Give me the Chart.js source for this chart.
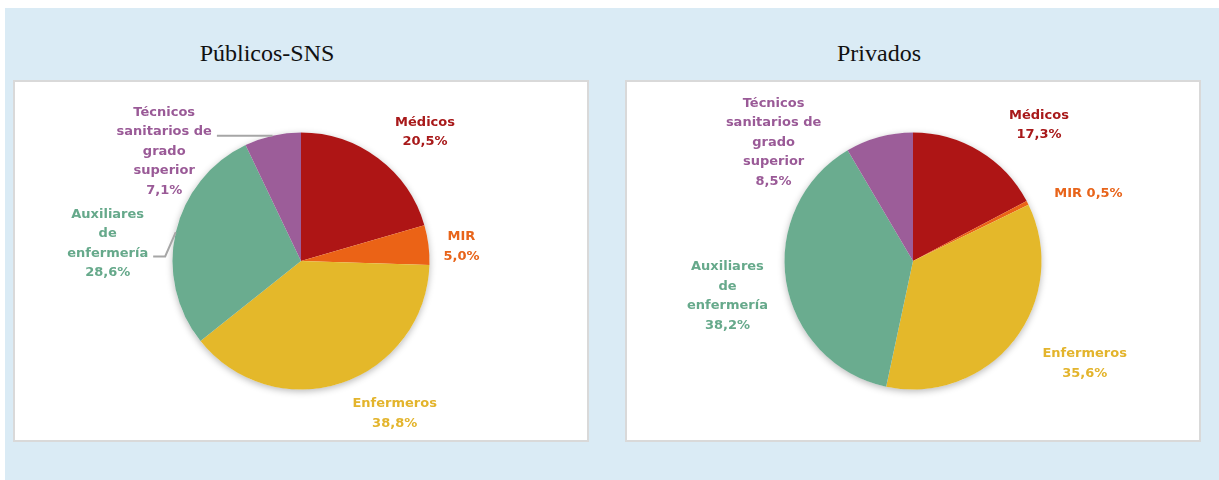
<!DOCTYPE html>
<html>
<head>
<meta charset="utf-8">
<script src="https://cdn.jsdelivr.net/npm/chart.js@4/dist/chart.umd.min.js"></script>
<style>
  body { margin: 0; background: #fff; width: 1219px; height: 480px; position: relative; overflow: hidden; }
  #bg { position: absolute; left: 5px; top: 8px; width: 1214px; height: 472px; background: #daebf5; }
  .panel { position: absolute; top: 80px; width: 576px; height: 362px; box-sizing: border-box;
           background: #fff; border: 2px solid #d9d9d9; }
  .title { position: absolute; top: 40px; width: 508px; text-align: center; line-height: 28px;
           font: 24px "Liberation Serif", "Times New Roman", serif; color: #111; }
  canvas { position: absolute; top: 80px; }
</style>
</head>
<body>
<div id="bg"></div>
<div class="title" style="left:13px">Públicos-SNS</div>
<div class="title" style="left:625px">Privados</div>
<div class="panel" style="left:13px"></div>
<div class="panel" style="left:625px"></div>
<canvas id="sns" width="576" height="362" style="left:13px"></canvas>
<canvas id="priv" width="576" height="362" style="left:625px"></canvas>
<script>
// categories (multi-line labels as in the figure)
const CATEGORIES = [
    ['Médicos'],
    ['MIR'],
    ['Enfermeros'],
    ['Auxiliares', 'de', 'enfermería'],
    ['Técnicos', 'sanitarios de', 'grado', 'superior']
];
const SNS_VALUES = [20.5, 5.0, 38.8, 28.6, 7.1];
const PRIV_VALUES = [17.3, 0.5, 35.6, 38.2, 8.5];

const SLICE_COLORS = ['#ae1515', '#eb6316', '#e4b82a', '#6aac8f', '#9c5d99'];
const TEXT_COLORS = ['#a8191a', '#e8641a', '#e3b42c', '#66a98b', '#9a5a97'];

function fmt(v) {
    return v.toFixed(1).replace('.', ',') + '%';
}

// soft shadow behind the pie
const pieShadow = {
    id: 'pieShadow',
    beforeDatasetsDraw(chart) {
        const arc = chart.getDatasetMeta(0).data[0];
        const ctx = chart.ctx;
        ctx.save();
        ctx.shadowColor = 'rgba(0,0,0,0.28)';
        ctx.shadowBlur = 7;
        ctx.shadowOffsetY = 2;
        ctx.fillStyle = '#fff';
        ctx.beginPath();
        ctx.arc(arc.x, arc.y, arc.outerRadius, 0, Math.PI * 2);
        ctx.fill();
        ctx.restore();
    }
};

// outside labels, optional leader line
const pieLabels = {
    id: 'pieLabels',
    afterDatasetsDraw(chart, args, opts) {
        const ctx = chart.ctx;
        const meta = chart.getDatasetMeta(0);
        const values = chart.data.datasets[0].data;
        const lh = 19.5;
        ctx.save();
        ctx.font = 'bold 13px "DejaVu Sans"';
        ctx.textAlign = 'center';
        ctx.textBaseline = 'middle';
        meta.data.forEach((arc, i) => {
            const { x, y, startAngle, endAngle, outerRadius } = arc;
            const mid = (startAngle + endAngle) / 2;
            const d = outerRadius * 1.4;
            const n = opts.nudge[i];
            const cx = x + Math.cos(mid) * d + n[0];
            const cy = y + Math.sin(mid) * d + n[1];
            const name = chart.data.labels[i];
            const lines = opts.inline[i] ? [name.join(' ') + ' ' + fmt(values[i])] : [...name, fmt(values[i])];
            const top = cy - (lines.length - 1) * lh / 2;

            if (opts.leader[i]) {
                let k = 0, w = 0;
                lines.forEach((t, j) => {
                    const tw = ctx.measureText(t).width;
                    if (tw > w) { w = tw; k = j; }
                });
                const px = x + Math.cos(mid) * outerRadius;
                const py = y + Math.sin(mid) * outerRadius;
                const lineRight = cx + w / 2 + 5;
                let ly = top + k * lh + 3;
                ctx.strokeStyle = '#a6a6a6';
                ctx.lineWidth = 2;
                ctx.beginPath();
                ctx.moveTo(px, py);
                if (Math.abs(py - ly) > 4) {
                    ctx.lineTo(lineRight + 12, ly);
                } else {
                    ly = py;
                }
                ctx.lineTo(lineRight, ly);
                ctx.stroke();
            }

            ctx.fillStyle = TEXT_COLORS[i];
            lines.forEach((t, j) => ctx.fillText(t, cx, top + j * lh));
        });
        ctx.restore();
    }
};

function makePie(id, values, labelOpts) {
    return new Chart(document.getElementById(id), {
        type: 'pie',
        data: {
            labels: CATEGORIES,
            datasets: [{
                data: values,
                backgroundColor: SLICE_COLORS,
                borderWidth: 0
            }]
        },
        options: {
            responsive: false,
            animation: false,
            layout: { padding: { top: 52.5, bottom: 52.5, left: 0, right: 0 } },
            plugins: {
                legend: { display: false },
                tooltip: { enabled: false },
                pieLabels: labelOpts
            }
        },
        plugins: [pieShadow, pieLabels]
    });
}

makePie('sns', SNS_VALUES, {
    nudge: [[16, 15], [-18, 8], [37, -18], [-18, 23], [-97, 66]],
    inline: [false, false, false, false, false],
    leader: [false, false, false, true, true]
});

makePie('priv', PRIV_VALUES, {
    nudge: [[33, 18], [15, 14], [30, -8], [-8, 6], [-92, 55]],
    inline: [false, true, false, false, false],
    leader: [false, false, false, false, false]
});
</script>
</body>
</html>
